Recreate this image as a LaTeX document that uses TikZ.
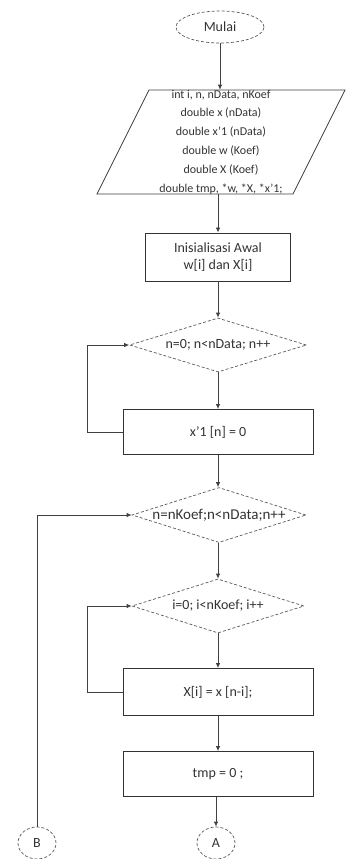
\documentclass[tikz,border=0pt]{standalone}
\usepackage{fontspec}
\setmainfont{Carlito}
\usetikzlibrary{shapes.geometric,arrows.meta}
\begin{document}
\begin{tikzpicture}[x=1pt,y=-1pt,
  line/.style={draw=black!75, line width=0.8pt},
  arr/.style={line, -{Latex[length=5pt,width=4.5pt]}},
  dsh/.style={dash pattern=on 3pt off 2pt},
  txt/.style={text=black!80, font=\fontsize{14}{17}\selectfont},
  proc/.style={rectangle, draw=black!80, line width=0.9pt, inner sep=0pt, align=center, txt, minimum width=190pt, minimum height=46pt},
  dec/.style={diamond, draw=black!65, dsh, line width=0.7pt, inner sep=0pt, aspect=3.2, txt},
  term/.style={ellipse, draw=black!65, dsh, line width=0.7pt, inner sep=0pt, txt}
]
\useasboundingbox (0,0) rectangle (347,859);

\node[term, minimum width=88pt, minimum height=32pt] (mulai) at (220,27) {Mulai};

\draw[line] (149,90) -- (345,90) -- (293,194) -- (97,194) -- cycle;
\node[align=center, text=black!80, inner sep=0pt, minimum height=104pt, minimum width=140pt,
      font=\fontsize{12}{18.8}\selectfont] (decl) at (221,142)
  {int i, n, nData, nKoef\\ double x (nData)\\ double x'1 (nData)\\ double w (Koef)\\ double X (Koef)\\ double tmp, *w, *X, *x'1;};

\node[proc, minimum width=145pt, minimum height=48pt] (init) at (218,257) {Inisialisasi Awal\\ w[i] dan X[i]};

\node[dec, minimum width=177pt, minimum height=54pt] (d1) at (218,345) {n=0; n<nData; n++};
\node[proc, minimum height=45pt] (box1) at (218,432) {x'1 [n] = 0};
\node[dec, minimum width=174pt, minimum height=55pt, font=\fontsize{15}{17}\selectfont] (d2) at (219,515) {n=nKoef;n<nData;n++};
\node[dec, minimum width=172pt, minimum height=54pt] (d3) at (218,606) {i=0; i<nKoef; i++};
\node[proc, minimum height=47pt] (box2) at (218,692) {X[i] = x [n-i];};
\node[proc, minimum height=45pt] (box3) at (218,774) {tmp = 0 ;};

\node[term, minimum width=38pt, minimum height=32pt] (A) at (216,843) {A};
\node[term, minimum width=38pt, minimum height=32pt] (B) at (37,843) {B};

\draw[arr] (mulai.south) -- (mulai.south |- decl.north);
\draw[arr] (init.north |- decl.south) -- (init.north);
\draw[arr] (init.south) -- (d1.north);
\draw[arr] (d1.south) -- (box1.north);
\draw[arr] (box1.south) -- (box1.south |- d2.north);
\draw[arr] (d2.south -| d3.north) -- (d3.north);
\draw[arr] (d3.south) -- (box2.north);
\draw[arr] (box2.south) -- (box3.north);
\draw[arr] (A.north |- box3.south) -- (A.north);

\draw[arr] (box1.west) -- ++(-35,0) |- (d1.west);
\draw[arr] (box2.west) -- ++(-35,0) |- (d3.west);
\draw[arr] (B.north) |- (d2.west);
\end{tikzpicture}
\end{document}
